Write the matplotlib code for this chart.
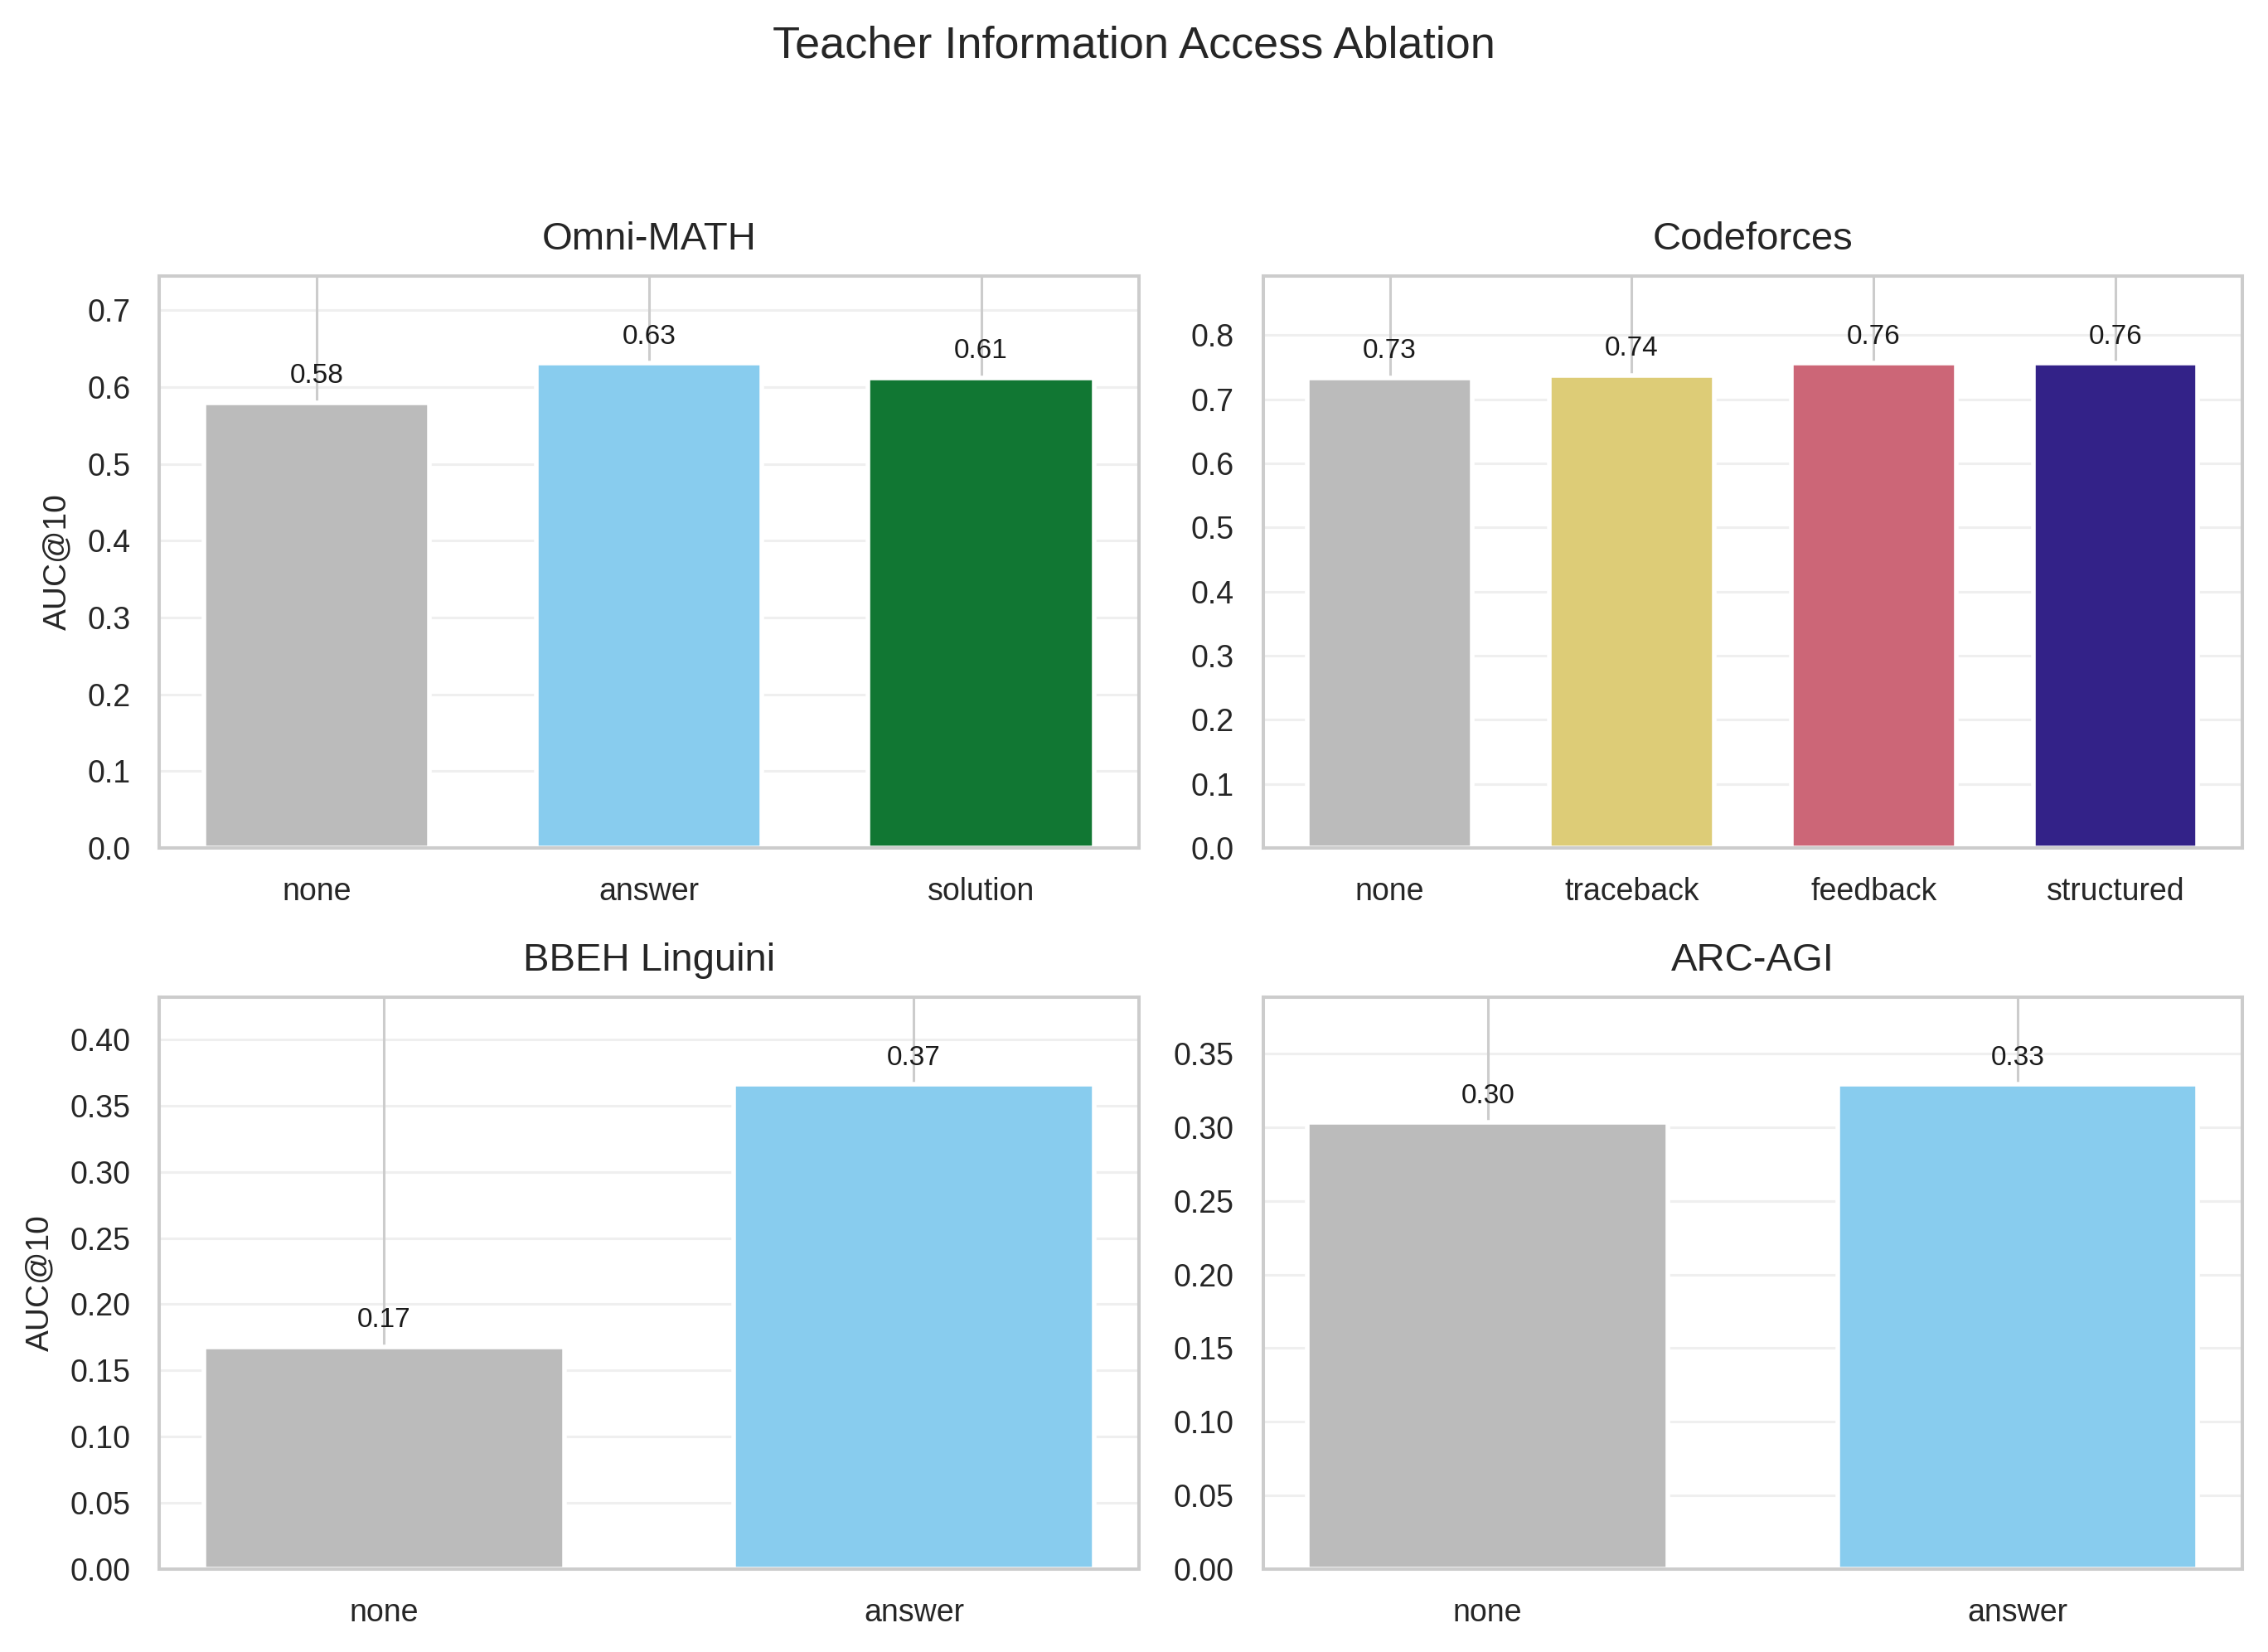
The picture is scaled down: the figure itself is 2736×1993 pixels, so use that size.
import matplotlib
matplotlib.use("Agg")
import matplotlib.pyplot as plt

# data
omni_labels = ["none", "answer", "solution"]
omni_values = [0.580, 0.631, 0.612]

cf_labels = ["none", "traceback", "feedback", "structured"]
cf_values = [0.733, 0.737, 0.756, 0.756]

bbeh_labels = ["none", "answer"]
bbeh_values = [0.168, 0.366]

arc_labels = ["none", "answer"]
arc_values = [0.303, 0.329]

titles = ["Omni-MATH", "Codeforces", "BBEH Linguini", "ARC-AGI"]

# colours per condition (Paul Tol muted)
cond_colors = {
    "none": "#BBBBBB",
    "answer": "#88CCEE",
    "solution": "#117733",
    "traceback": "#DDCC77",
    "feedback": "#CC6677",
    "structured": "#332288",
}

plt.rcParams["font.family"] = ["Liberation Sans", "DejaVu Sans"]
plt.rcParams["text.color"] = ".15"
plt.rcParams["axes.labelcolor"] = ".15"
plt.rcParams["xtick.color"] = ".15"
plt.rcParams["ytick.color"] = ".15"

fig, axes = plt.subplots(2, 2, figsize=(13.68, 9.965), dpi=200)
fig.subplots_adjust(left=0.0702, right=0.9887, top=0.8329, bottom=0.0502,
                    wspace=0.127, hspace=0.261)

panels = [
    (omni_labels, omni_values),
    (cf_labels, cf_values),
    (bbeh_labels, bbeh_values),
    (arc_labels, arc_values),
]

for i, (ax, (labels, values)) in enumerate(zip(axes.flat, panels)):
    x = list(range(len(labels)))
    cols = [cond_colors[l] for l in labels]
    ax.set_axisbelow(True)
    ax.bar(x, values, width=0.68, color=cols, edgecolor="white", linewidth=2.0)

    for xi, v in zip(x, values):
        ax.annotate(f"{v:.2f}", (xi, v), xytext=(0, 6), textcoords="offset points",
                    ha="center", va="bottom", fontsize=12, color="#1a1a1a")

    ax.set_xticks(x)
    ax.set_xticklabels(labels)
    ax.set_ylim(0, max(values) * 1.18)
    ax.set_title(titles[i], fontsize=17, pad=11.5)
    if i % 2 == 0:
        ax.set_ylabel("AUC@10", fontsize=14, labelpad=6.5)

    # grids: darker vertical lines, faint horizontal lines
    ax.grid(axis="x", color="#cccccc", linewidth=1.1)
    ax.grid(axis="y", color="#cccccc", linewidth=1.1, alpha=0.3)
    for s in ax.spines.values():
        s.set_color("#cccccc")
        s.set_linewidth(1.45)
    ax.tick_params(axis="x", length=0, pad=12.5, labelsize=13.5)
    ax.tick_params(axis="y", length=0, pad=12.5, labelsize=13.5)

fig.text(0.5, 1 - 70 / 1993, "Teacher Information Access Ablation",
         ha="center", va="baseline", fontsize=19.5)

fig.savefig("out.png", dpi=200)
